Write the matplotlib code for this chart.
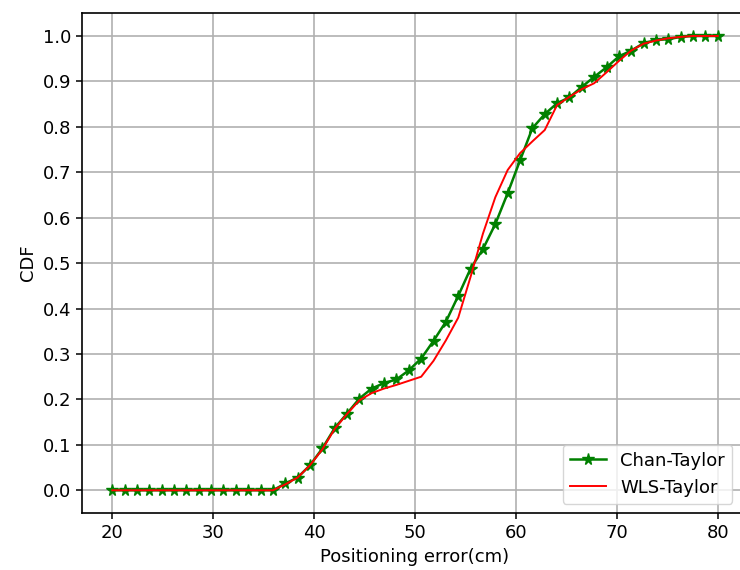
import numpy as np
import matplotlib.pyplot as plt

# positioning error samples (cm)
err = np.linspace(20, 80, 50)

# CDF values
chan_taylor = [0, 0, 0, 0, 0, 0, 0, 0, 0, 0,
               0, 0, 0, 0, 0.015, 0.028, 0.055, 0.092, 0.137, 0.169,
               0.202, 0.224, 0.236, 0.244, 0.264, 0.290, 0.329, 0.371, 0.428, 0.488,
               0.531, 0.586, 0.654, 0.726, 0.797, 0.828, 0.852, 0.865, 0.888, 0.910,
               0.931, 0.955, 0.968, 0.984, 0.991, 0.993, 0.998, 1.0, 1.0, 1.0]
wls_taylor = [0, 0, 0, 0, 0, 0, 0, 0, 0, 0,
              0, 0, 0, 0, 0.013, 0.028, 0.055, 0.090, 0.135, 0.168,
              0.198, 0.214, 0.224, 0.232, 0.241, 0.250, 0.285, 0.330, 0.380, 0.470,
              0.565, 0.645, 0.705, 0.742, 0.768, 0.793, 0.848, 0.866, 0.883, 0.896,
              0.920, 0.945, 0.968, 0.983, 0.990, 0.995, 0.998, 1.0, 1.0, 1.0]

fig = plt.figure(figsize=(7.4, 5.7), dpi=100)
# axes run slightly past the right edge, as in the cropped original
ax = fig.add_axes([0.1108, 0.1, 0.9, 0.8767])

ax.plot(err, chan_taylor, color='green', marker='*', markersize=8.5,
        linewidth=1.8, label='Chan-Taylor')
ax.plot(err, wls_taylor, color='red', linewidth=1.4, label='WLS-Taylor')

ax.set_xlabel('Positioning error(cm)', fontsize=13)
ax.set_ylabel('CDF', fontsize=13)
ax.set_xticks(np.arange(20, 81, 10))
ax.set_yticks(np.arange(0, 1.01, 0.1))
ax.tick_params(labelsize=13, length=4.5, width=1.1)
for s in ax.spines.values():
    s.set_linewidth(1.2)
ax.grid(True, linewidth=1.2)
ax.legend(loc='lower right', fontsize=13, bbox_to_anchor=(0.99, 0.0))

fig.savefig('out.png')
